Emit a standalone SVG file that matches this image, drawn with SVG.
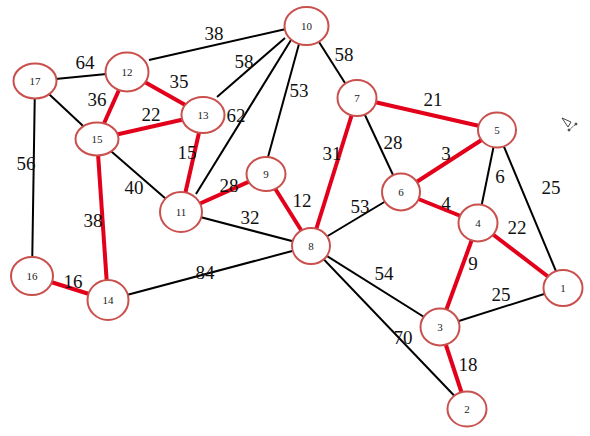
<svg xmlns="http://www.w3.org/2000/svg" width="590" height="436" viewBox="0 0 590 436">
<style>
.e{stroke:#000;stroke-width:2;fill:none}
.r{stroke:#e3001b;stroke-width:4;fill:none}
.n{fill:#fff;stroke:#c9504d;stroke-width:2}
.nl{font-family:"Liberation Serif",serif;font-size:11px;fill:#222;text-anchor:middle}
.w{font-family:"Liberation Serif",serif;font-size:19px;fill:#111;text-anchor:middle}
</style>
<rect width="590" height="436" fill="#fff"/>
<g id="connectors">
<line class="e" x1="286" y1="29" x2="149" y2="60"/>
<line class="e" x1="285" y1="38" x2="217" y2="97"/>
<line class="e" x1="291" y1="40" x2="196" y2="194"/>
<line class="e" x1="299" y1="44" x2="268" y2="157"/>
<line class="e" x1="319" y1="42" x2="345" y2="83"/>
<line class="e" x1="35" y1="81" x2="127" y2="72"/>
<line class="e" x1="35" y1="81" x2="97" y2="139"/>
<line class="e" x1="35" y1="81" x2="32" y2="276"/>
<line class="e" x1="97" y1="139" x2="181" y2="212"/>
<line class="e" x1="181" y1="212" x2="311" y2="246"/>
<line class="e" x1="108" y1="300" x2="311" y2="246"/>
<line class="e" x1="357" y1="98" x2="401" y2="192"/>
<line class="e" x1="401" y1="192" x2="311" y2="246"/>
<line class="e" x1="497" y1="130" x2="478" y2="223"/>
<line class="e" x1="497" y1="130" x2="563" y2="288"/>
<line class="e" x1="311" y1="246" x2="440" y2="327"/>
<line class="e" x1="311" y1="246" x2="467" y2="409"/>
<line class="e" x1="440" y1="327" x2="563" y2="288"/>
<line class="r" x1="127" y1="72" x2="203" y2="115"/>
<line class="r" x1="127" y1="72" x2="97" y2="139"/>
<line class="r" x1="97" y1="139" x2="203" y2="115"/>
<line class="r" x1="203" y1="115" x2="181" y2="212"/>
<line class="r" x1="181" y1="212" x2="266" y2="174"/>
<line class="r" x1="266" y1="174" x2="311" y2="246"/>
<line class="r" x1="97" y1="139" x2="108" y2="300"/>
<line class="r" x1="32" y1="276" x2="108" y2="300"/>
<line class="r" x1="357" y1="98" x2="311" y2="246"/>
<line class="r" x1="357" y1="98" x2="497" y2="130"/>
<line class="r" x1="401" y1="192" x2="497" y2="130"/>
<line class="r" x1="401" y1="192" x2="478" y2="223"/>
<line class="r" x1="478" y1="223" x2="563" y2="288"/>
<line class="r" x1="478" y1="223" x2="440" y2="327"/>
<line class="r" x1="440" y1="327" x2="467" y2="409"/>
</g>
<g id="weights">
<text class="w" x="214" y="40">38</text>
<text class="w" x="85" y="69">64</text>
<text class="w" x="244" y="68">58</text>
<text class="w" x="299" y="97">53</text>
<text class="w" x="344" y="61">58</text>
<text class="w" x="179" y="88">35</text>
<text class="w" x="97" y="106">36</text>
<text class="w" x="151" y="121">22</text>
<text class="w" x="236" y="122">62</text>
<text class="w" x="187" y="159">15</text>
<text class="w" x="26" y="170">56</text>
<text class="w" x="134" y="194">40</text>
<text class="w" x="229" y="192">28</text>
<text class="w" x="302" y="207">12</text>
<text class="w" x="250" y="224">32</text>
<text class="w" x="93" y="227">38</text>
<text class="w" x="73" y="288">16</text>
<text class="w" x="205" y="279">84</text>
<text class="w" x="433" y="106">21</text>
<text class="w" x="393" y="149">28</text>
<text class="w" x="332" y="160">31</text>
<text class="w" x="446" y="160">3</text>
<text class="w" x="500" y="183">6</text>
<text class="w" x="551" y="194">25</text>
<text class="w" x="360" y="213">53</text>
<text class="w" x="446" y="210">4</text>
<text class="w" x="517" y="234">22</text>
<text class="w" x="473" y="270">9</text>
<text class="w" x="384" y="280">54</text>
<text class="w" x="501" y="301">25</text>
<text class="w" x="403" y="344">70</text>
<text class="w" x="468" y="371">18</text>
</g>
<g id="n1"><ellipse class="n" cx="563" cy="288" rx="19.5" ry="18"/><text class="nl" x="563" y="292">1</text></g>
<g id="n2"><ellipse class="n" cx="467" cy="409" rx="19.5" ry="17.5"/><text class="nl" x="467" y="413">2</text></g>
<g id="n3"><ellipse class="n" cx="440" cy="327" rx="19.5" ry="18.5"/><text class="nl" x="440" y="331">3</text></g>
<g id="n4"><ellipse class="n" cx="478" cy="223" rx="19.5" ry="18.5"/><text class="nl" x="478" y="227">4</text></g>
<g id="n5"><ellipse class="n" cx="497" cy="130" rx="19" ry="17.5"/><text class="nl" x="497" y="134">5</text></g>
<g id="n6"><ellipse class="n" cx="401" cy="192" rx="19" ry="18.5"/><text class="nl" x="401" y="196">6</text></g>
<g id="n7"><ellipse class="n" cx="357" cy="98" rx="19.5" ry="18"/><text class="nl" x="357" y="102">7</text></g>
<g id="n8"><ellipse class="n" cx="311" cy="246" rx="19" ry="18"/><text class="nl" x="311" y="250">8</text></g>
<g id="n9"><ellipse class="n" cx="266" cy="174" rx="19.5" ry="17"/><text class="nl" x="266" y="178">9</text></g>
<g id="n10"><ellipse class="n" cx="306.5" cy="26" rx="22" ry="19"/><text class="nl" x="306.5" y="30">10</text></g>
<g id="n11"><ellipse class="n" cx="181" cy="212" rx="21" ry="20"/><text class="nl" x="181" y="216">11</text></g>
<g id="n12"><ellipse class="n" cx="127" cy="72" rx="21.5" ry="19.5"/><text class="nl" x="127" y="76">12</text></g>
<g id="n13"><ellipse class="n" cx="203" cy="115" rx="21.5" ry="18"/><text class="nl" x="203" y="119">13</text></g>
<g id="n14"><ellipse class="n" cx="108" cy="300" rx="20.5" ry="20"/><text class="nl" x="108" y="304">14</text></g>
<g id="n15"><ellipse class="n" cx="97" cy="139" rx="21.5" ry="16.5"/><text class="nl" x="97" y="143">15</text></g>
<g id="n16"><ellipse class="n" cx="32" cy="276" rx="21" ry="19"/><text class="nl" x="32" y="280">16</text></g>
<g id="n17"><ellipse class="n" cx="35" cy="81" rx="21.5" ry="17.5"/><text class="nl" x="35" y="85">17</text></g>
<g id="cursor" fill="none" stroke="#444" stroke-width="1">
<polygon points="562,118 568,127 571,122"/>
<line x1="569" y1="130" x2="576" y2="124" stroke-dasharray="2,1"/>
<circle cx="576" cy="124" r="1" fill="#444"/>
<circle cx="569" cy="130" r="1" fill="#444"/>
</g>
</svg>
